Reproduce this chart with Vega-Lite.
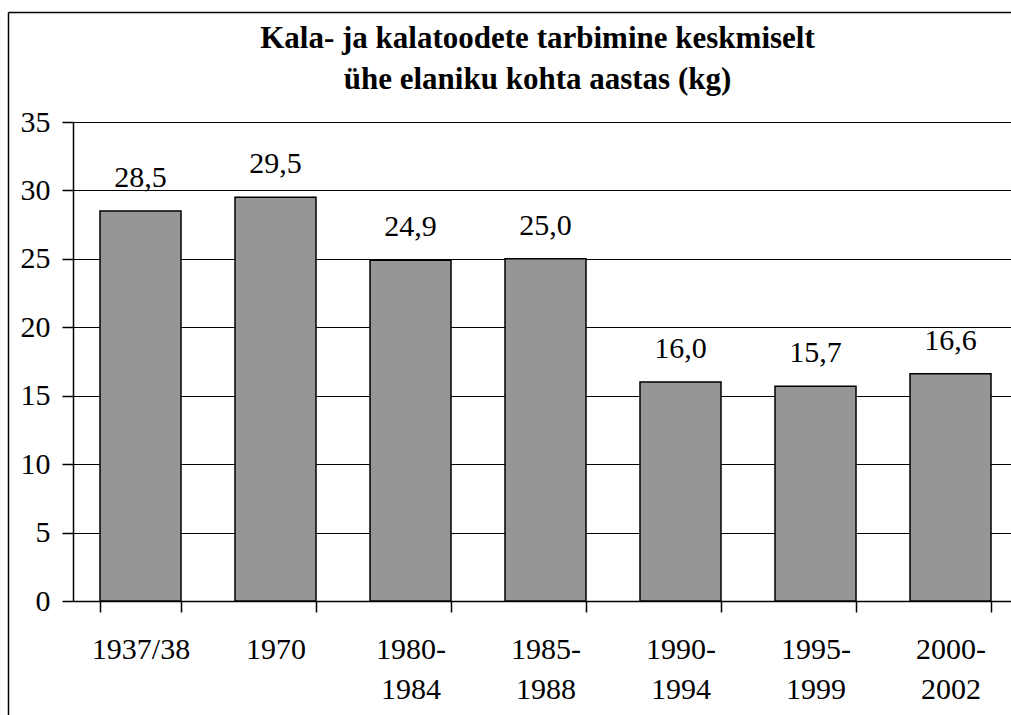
{
  "$schema": "https://vega.github.io/schema/vega-lite/v6.json",
  "width": 945,
  "height": 479,
  "autosize": {"type": "none"},
  "padding": {"left": 73, "top": 122, "right": 0, "bottom": 114},
  "background": "white",
  "title": {
    "text": ["Kala- ja kalatoodete tarbimine keskmiselt", "ühe elaniku kohta aastas (kg)"],
    "font": "Liberation Serif",
    "fontSize": 31,
    "fontWeight": "bold",
    "color": "black",
    "anchor": "middle",
    "frame": "group",
    "offset": -84,
    "lineHeight": 41,
    "dx": -8
  },
  "config": {
    "locale": {"number": {"decimal": ",", "thousands": " ", "grouping": [3], "currency": ["", " €"]}},
    "view": {"stroke": null},
    "font": "Liberation Serif"
  },
  "data": {
    "values": [
      {"period": "1937/38", "kg": 28.5},
      {"period": "1970", "kg": 29.5},
      {"period": "1980-1984", "kg": 24.9},
      {"period": "1985-1988", "kg": 25.0},
      {"period": "1990-1994", "kg": 16.0},
      {"period": "1995-1999", "kg": 15.7},
      {"period": "2000-2002", "kg": 16.6}
    ]
  },
  "layer": [
    {
      "encoding": {
        "x": {
          "field": "period",
          "type": "nominal",
          "sort": null,
          "scale": {"paddingInner": 0.4, "paddingOuter": 0.2},
          "axis": {
            "title": null,
            "labelAngle": 0,
            "tickBand": "extent",
            "tickSize": 11,
            "tickColor": "black",
            "tickWidth": 1.5,
            "domainColor": "black",
            "domainWidth": 1.5,
            "labelFont": "Liberation Serif",
            "labelFontSize": 30,
            "labelColor": "black",
            "labelLineHeight": 40,
            "labelPadding": 22,
            "labelExpr": "length(datum.label) > 7 ? [substring(datum.label, 0, 5), substring(datum.label, 5)] : datum.label"
          }
        },
        "y": {
          "field": "kg",
          "type": "quantitative",
          "scale": {"domain": [0, 35], "nice": false},
          "axis": {
            "title": null,
            "values": [0, 5, 10, 15, 20, 25, 30, 35],
            "grid": true,
            "gridColor": "black",
            "gridWidth": 1.2,
            "gridOpacity": 1,
            "tickSize": 11,
            "tickColor": "black",
            "tickWidth": 1.5,
            "domainColor": "black",
            "domainWidth": 1.5,
            "labelFont": "Liberation Serif",
            "labelFontSize": 30,
            "labelColor": "black",
            "labelPadding": 12
          }
        }
      },
      "layer": [
        {"mark": {"type": "bar", "fill": "#969696", "stroke": "black", "strokeWidth": 1.5}},
        {
          "mark": {"type": "text", "dy": -24, "baseline": "alphabetic", "font": "Liberation Serif", "fontSize": 30, "color": "black"},
          "encoding": {"text": {"field": "kg", "type": "quantitative", "format": ".1f"}}
        }
      ]
    },
    {
      "mark": {"type": "point", "opacity": 0},
      "encoding": {
        "x": {
          "field": "kg",
          "type": "quantitative",
          "scale": {"domain": [0, 35], "nice": false, "zero": false, "range": [-65, 1000]},
          "axis": {"orient": "top", "offset": 110, "title": null, "labels": false, "ticks": false, "grid": false, "domainColor": "black", "domainWidth": 1.5}
        },
        "y": {
          "field": "kg",
          "type": "quantitative",
          "scale": {"domain": [0, 35], "nice": false, "zero": false, "range": [800, -110]},
          "axis": {"orient": "left", "offset": 65, "title": null, "labels": false, "ticks": false, "grid": false, "domainColor": "black", "domainWidth": 1.5}
        }
      }
    }
  ],
  "resolve": {"scale": {"x": "independent", "y": "independent"}, "axis": {"x": "independent", "y": "independent"}}
}
